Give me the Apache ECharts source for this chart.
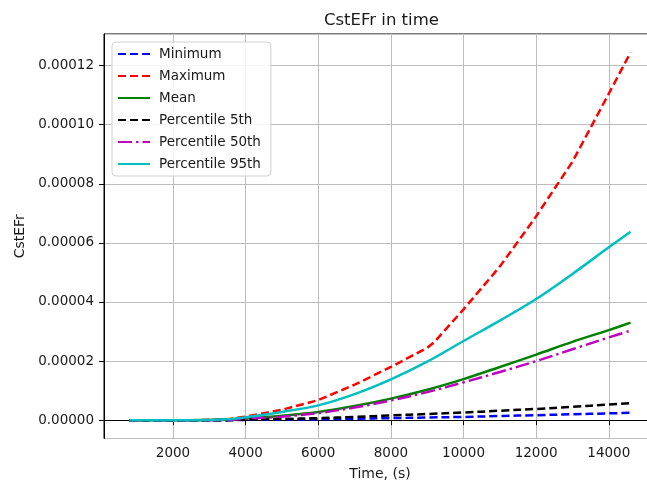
<!DOCTYPE html>
<html>
<head>
<meta charset="utf-8">
<script src="https://cdn.jsdelivr.net/npm/echarts@6/dist/echarts.min.js"></script>
<style>
  html, body { margin: 0; padding: 0; background: #fff; }
  #main { width: 647px; height: 484px; }
</style>
</head>
<body>
<div id="main"></div>
<script>
  // time samples (s)
  var time = [800, 1500, 2500, 3500, 4000, 5000, 6000, 7000, 8000, 9000, 10000, 11000, 12000, 13000, 14000, 14600];
  // the maximum curve has a visible bend near 9200 s
  var timeMax = [800, 1500, 2500, 3500, 4000, 5000, 6000, 7000, 8000, 9000, 9200, 10000, 11000, 12000, 13000, 14000, 14600];

  var minimum = [0, 0, 0, 0, 0.0000001, 0.0000002, 0.0000003, 0.0000005, 0.0000007, 0.0000009, 0.0000011, 0.0000014, 0.0000017, 0.0000020, 0.0000023, 0.0000025];
  var maximum = [0, 0, 0, 0.0000003, 0.0000012, 0.0000035, 0.0000068, 0.0000120, 0.0000180, 0.0000245, 0.0000265, 0.0000375, 0.0000520, 0.0000690, 0.0000875, 0.0001105, 0.0001245];
  var mean = [0, 0, 0, 0.0000002, 0.0000006, 0.0000015, 0.0000028, 0.0000048, 0.0000073, 0.0000103, 0.0000139, 0.0000180, 0.0000222, 0.0000265, 0.0000305, 0.0000330];
  var p5 = [0, 0, 0, 0, 0.0000002, 0.0000004, 0.0000007, 0.0000011, 0.0000016, 0.0000021, 0.0000026, 0.0000032, 0.0000038, 0.0000045, 0.0000053, 0.0000058];
  var p50 = [0, 0, 0, 0.0000001, 0.0000005, 0.0000012, 0.0000024, 0.0000043, 0.0000067, 0.0000095, 0.0000128, 0.0000163, 0.0000200, 0.0000240, 0.0000280, 0.0000303];
  var p95 = [0, 0, 0, 0.0000003, 0.0000010, 0.0000028, 0.0000050, 0.0000088, 0.0000138, 0.0000198, 0.0000268, 0.0000337, 0.0000410, 0.0000495, 0.0000585, 0.0000638];

  function pairs(xs, vals) {
    var out = [];
    for (var i = 0; i < xs.length; i++) {
      out.push([xs[i], vals[i]]);
    }
    return out;
  }

  var font = 'DejaVu Sans';
  var ink = '#1a1a1a';

  function line(name, xs, vals, color, dash, smooth) {
    return {
      name: name,
      type: 'line',
      symbol: 'none',
      smooth: smooth === undefined ? 0.35 : smooth,
      data: pairs(xs, vals),
      lineStyle: { color: color, width: 2.5, type: dash || 'solid' },
      itemStyle: { color: color }
    };
  }

  var chart = echarts.init(document.getElementById('main'));
  chart.setOption({
    animation: false,
    backgroundColor: '#fff',
    title: {
      text: 'CstEFr in time',
      left: 319,
      top: 7,
      textStyle: { fontFamily: font, fontSize: 16.5, fontWeight: 'normal', color: ink }
    },
    legend: {
      orient: 'vertical',
      left: 112,
      top: 42,
      padding: [5, 10, 5, 5],
      itemWidth: 32,
      itemHeight: 14,
      itemGap: 8,
      itemStyle: { opacity: 0 },
      backgroundColor: 'rgba(255,255,255,0.85)',
      borderColor: '#d0d0d0',
      borderWidth: 1,
      borderRadius: 4,
      textStyle: { fontFamily: font, fontSize: 13.5, color: ink, padding: [0, 0, 0, 4] },
      data: ['Minimum', 'Maximum', 'Mean', 'Percentile 5th', 'Percentile 50th', 'Percentile 95th']
    },
    grid: {
      left: 104,
      top: 34,
      bottom: 45.5,
      right: -9,
      show: true,
      borderColor: '#000',
      borderWidth: 1,
      outerBoundsMode: 'none'
    },
    xAxis: {
      type: 'value',
      min: 100,
      max: 15300,
      minInterval: 2000,
      maxInterval: 2000,
      name: 'Time, (s)',
      nameLocation: 'middle',
      nameGap: 29,
      nameTextStyle: { fontFamily: font, fontSize: 14, color: ink },
      axisLine: { show: true, lineStyle: { color: '#000' } },
      axisTick: { show: true, inside: false, length: 5, lineStyle: { color: '#000' } },
      axisLabel: {
        showMinLabel: false, showMaxLabel: false,
        fontFamily: font, fontSize: 13.5, color: ink, margin: 8,
        formatter: function (v) { return String(v); }
      },
      splitLine: { show: true, lineStyle: { color: '#bdbdbd', width: 1 } }
    },
    yAxis: {
      type: 'value',
      min: -0.0000062,
      max: 0.0001307,
      minInterval: 0.00002,
      maxInterval: 0.00002,
      name: 'CstEFr',
      nameLocation: 'middle',
      nameGap: 76,
      nameTextStyle: { fontFamily: font, fontSize: 14, color: ink },
      axisLine: { show: true, lineStyle: { color: '#000' } },
      axisTick: { show: true, inside: false, length: 5, lineStyle: { color: '#000' } },
      axisLabel: {
        showMinLabel: false, showMaxLabel: false,
        fontFamily: font, fontSize: 13.5, color: ink, margin: 10,
        formatter: function (v) { return v.toFixed(5); }
      },
      splitLine: { show: true, lineStyle: { color: '#bdbdbd', width: 1 } }
    },
    series: [
      line('Minimum', time, minimum, '#0000ff', [8, 4]),
      line('Maximum', timeMax, maximum, '#ff0000', [8, 4], false),
      line('Mean', time, mean, '#008000'),
      line('Percentile 5th', time, p5, '#000000', [8, 4]),
      line('Percentile 50th', time, p50, '#bf00bf', [14, 4, 2.5, 4]),
      line('Percentile 95th', time, p95, '#00bfbf')
    ]
  });
</script>
</body>
</html>
